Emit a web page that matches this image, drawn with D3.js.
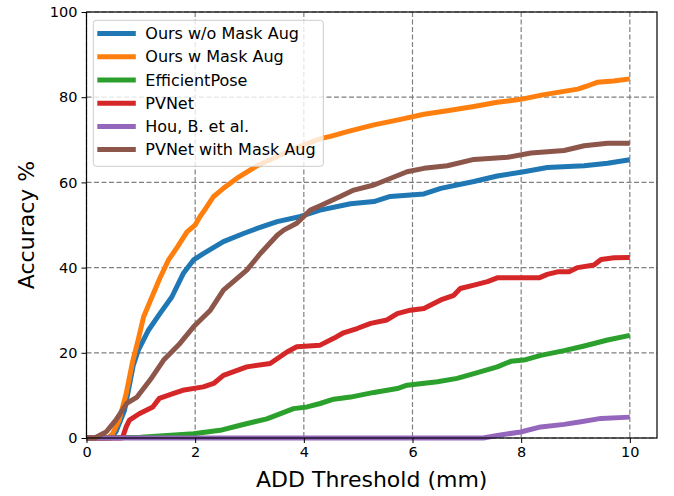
<!DOCTYPE html>
<style>
body { margin: 0; background-color: #FFFFFF; }
text { font-family: "DejaVu Sans", sans-serif; }
</style>
<svg width="674" height="496"></svg>
<script src="https://d3js.org/d3.v7.min.js"></script>
<script>

// [ADD threshold (mm), accuracy %]
var oursNoAug = [[0,0],[0.45,0],[0.54,1.4],[0.7,6.5],[0.86,17],[0.95,20.5],[1.14,25.3],[1.35,29.2],[1.57,33.1],[1.78,38.6],[1.97,41.8],[2.15,43.3],[2.52,46.1],[2.89,48],[3.14,49.2],[3.51,50.8],[3.94,52],[4.3,53.5],[4.86,55],[5.29,55.5],[5.59,56.7],[6.21,57.3],[6.52,58.6],[7.13,60.2],[7.56,61.5],[8.05,62.5],[8.48,63.5],[9.16,63.9],[9.59,64.5],[10,65.3]];
var oursAug = [[0,0],[0.4,0],[0.48,1],[0.6,4.2],[0.73,10.4],[0.85,18],[0.95,23],[1.05,28.4],[1.2,33],[1.35,37.5],[1.51,41.8],[1.68,45],[1.85,48.4],[2.0,50],[2.09,52],[2.2,54],[2.34,56.7],[2.52,58.6],[2.77,61],[3.01,62.9],[3.17,64.1],[3.5,66],[3.8,67.8],[4.1,69.3],[4.34,70.4],[4.49,70.8],[4.8,71.9],[5.29,73.5],[5.78,74.8],[6.21,76],[6.64,76.8],[7.13,77.8],[7.56,78.8],[7.99,79.5],[8.42,80.6],[9.04,81.9],[9.25,82.8],[9.4,83.5],[9.7,83.8],[10,84.3]];
var efficientPose = [[0,0],[1.0,0.2],[1.97,1],[2.46,1.8],[2.83,3],[3.32,4.5],[3.81,6.9],[4.06,7.3],[4.3,8.1],[4.55,9.1],[4.86,9.6],[5.29,10.7],[5.72,11.6],[5.9,12.4],[6.46,13.2],[6.82,14],[7.13,15.1],[7.56,16.7],[7.81,18],[8.05,18.3],[8.36,19.4],[8.79,20.5],[9.16,21.6],[9.59,23],[10,24.1]];
var pvnet = [[0,0],[0.66,0],[0.73,2.6],[0.79,4.2],[0.97,5.7],[1.22,7.3],[1.34,9.3],[1.59,10.4],[1.77,11.2],[2.15,12],[2.34,12.8],[2.52,14.7],[2.95,16.7],[3.38,17.5],[3.69,20.2],[3.87,21.4],[4.3,21.8],[4.55,23.4],[4.73,24.7],[4.98,25.7],[5.23,26.9],[5.53,27.7],[5.72,29.2],[5.96,30],[6.21,30.4],[6.52,32.4],[6.76,33.5],[6.88,35.1],[7.13,35.9],[7.38,36.7],[7.56,37.6],[8.33,37.6],[8.48,38.4],[8.67,39],[8.88,39],[9.04,40],[9.34,40.6],[9.47,41.9],[9.71,42.3],[10,42.4]];
var hou = [[0,0],[7.3,0],[7.56,0.6],[7.99,1.4],[8.36,2.6],[8.79,3.2],[9.1,3.8],[9.47,4.6],[10,4.9]];
var pvnetAug = [[0,0],[0.15,0],[0.36,1.4],[0.54,4.2],[0.74,8.1],[0.93,9.6],[1.17,13.6],[1.42,18.3],[1.72,22.2],[1.97,26.1],[2.28,30],[2.52,34.7],[2.95,39.4],[3.2,43.3],[3.51,47.6],[3.63,48.8],[3.87,50.4],[4.12,53.5],[4.3,54.5],[4.67,56.7],[4.92,58.2],[5.29,59.4],[5.9,62.5],[6.21,63.3],[6.64,63.9],[7.13,65.4],[7.75,65.9],[8.18,66.9],[8.79,67.5],[9.16,68.6],[9.59,69.2],[10,69.2]];

var names = ["Ours w/o Mask Aug", "Ours w Mask Aug", "EfficientPose", "PVNet", "Hou, B. et al.", "PVNet with Mask Aug"];
var colors = ["#1f77b4", "#ff7f0e", "#2ca02c", "#d62728", "#9467bd", "#8c564b"];
var series = [oursNoAug, oursAug, efficientPose, pvnet, hou, pvnetAug];
var xTicks = [0, 2, 4, 6, 8, 10];
var yTicks = [0, 20, 40, 60, 80, 100];

var svg = d3.select("svg"),
    margin = {top: 12, right: 17, bottom: 58, left: 86.5},
    width = +svg.attr("width") - margin.left - margin.right,
    height = +svg.attr("height") - margin.top - margin.bottom,
    g = svg.append("g").attr("transform", "translate(" + margin.left + "," + margin.top + ")");

var x = d3.scaleLinear().domain([0, 10.5]).range([0, width]);
var y = d3.scaleLinear().domain([0, 100]).range([height, 0]);

// grid
g.append("g").selectAll("line").data(xTicks).enter().append("line")
    .attr("x1", x).attr("x2", x).attr("y1", 0).attr("y2", height)
    .attr("stroke", "#808080").attr("stroke-width", 1.2).attr("stroke-dasharray", "5,2.5");
g.append("g").selectAll("line").data(yTicks).enter().append("line")
    .attr("y1", y).attr("y2", y).attr("x1", 0).attr("x2", width)
    .attr("stroke", "#808080").attr("stroke-width", 1.2).attr("stroke-dasharray", "5,2.5");

// curves
var line = d3.line().x(function(d) { return x(d[0]); }).y(function(d) { return y(d[1]); });
g.append("g").selectAll("path").data(series).enter().append("path")
    .attr("d", line)
    .attr("fill", "none")
    .attr("stroke", function(d, i) { return colors[i]; })
    .attr("stroke-width", 5)
    .attr("stroke-linejoin", "round")
    .attr("stroke-linecap", "butt");

// axes
var xAxis = g.append("g")
    .attr("transform", "translate(0," + height + ")")
    .call(d3.axisBottom(x).tickValues(xTicks).tickSize(5).tickPadding(4));
var yAxis = g.append("g")
    .call(d3.axisLeft(y).tickValues(yTicks).tickSize(5).tickPadding(4));
[xAxis, yAxis].forEach(function(a) {
  a.select(".domain").remove();
  a.selectAll("text").attr("font-size", 14.5).attr("font-family", "DejaVu Sans").attr("fill", "#000");
  a.selectAll("line").attr("stroke", "#000").attr("stroke-width", 1);
});

// spines
g.append("rect").attr("width", width).attr("height", height)
    .attr("fill", "none").attr("stroke", "#000").attr("stroke-width", 1.2);

// legend
var legend = g.append("g").attr("transform", "translate(6.8,8.3)");
legend.append("rect")
    .attr("width", 230).attr("height", 146).attr("rx", 3)
    .attr("fill", "#fff").attr("fill-opacity", 0.8)
    .attr("stroke", "#cccccc").attr("stroke-width", 1);
var item = legend.selectAll("g.item").data(names).enter().append("g")
    .attr("transform", function(d, i) { return "translate(0," + (13.3 + i * 23.2) + ")"; });
item.append("line")
    .attr("x1", 4).attr("x2", 42.5)
    .attr("stroke", function(d, i) { return colors[i]; })
    .attr("stroke-width", 5);
item.append("text")
    .attr("x", 52).attr("dy", "0.35em")
    .attr("font-size", 16)
    .text(function(d) { return d; });

// axis labels
svg.append("text")
    .attr("x", margin.left + width / 2).attr("y", 487)
    .attr("text-anchor", "middle").attr("font-size", 22)
    .text("ADD Threshold (mm)");
svg.append("text")
    .attr("transform", "translate(34," + (margin.top + height / 2) + ") rotate(-90)")
    .attr("text-anchor", "middle").attr("font-size", 22)
    .text("Accuracy %");

</script>
